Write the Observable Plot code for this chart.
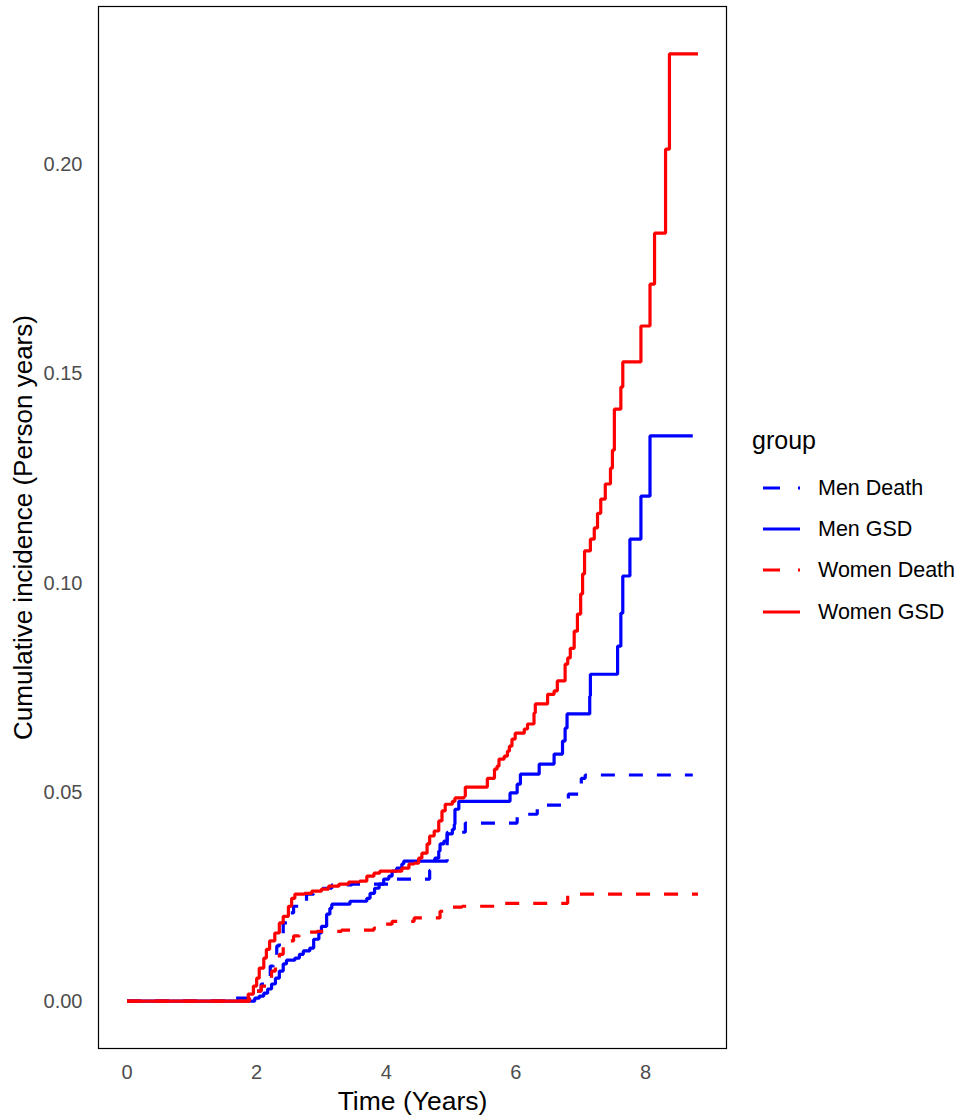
<!DOCTYPE html>
<html>
<head>
<meta charset="utf-8">
<script src="https://cdn.jsdelivr.net/npm/d3@7"></script>
<script src="https://cdn.jsdelivr.net/npm/@observablehq/plot@0.6"></script>
<style>
  html, body { margin: 0; padding: 0; background: #fff; }
  #wrap { position: relative; width: 966px; height: 1120px; font-family: "Liberation Sans", Arial, sans-serif; }
  #chart { position: absolute; left: 0; top: 0; }
  .lg { position: absolute; white-space: nowrap; color: #000; }
  .lgtitle { font-size: 25px; }
  .lgitem { font-size: 21.5px; }
</style>
</head>
<body>
<div id="wrap">
  <div id="chart"></div>
  <div id="legend"></div>
</div>
<script>
// ---- Data ----
const groups = ["Men Death", "Men GSD", "Women Death", "Women GSD"];
const groupColors = ["#0000FF", "#0000FF", "#FF0000", "#FF0000"];
const groupDashed = [true, false, true, false];

const xTicks = [0, 2, 4, 6, 8];
const yTicks = [0, 0.05, 0.10, 0.15, 0.20];

const menDeathTime = [0, 1.64, 1.92, 2.00, 2.07, 2.15, 2.21, 2.26, 2.31, 2.35, 2.41, 2.48, 2.57, 2.66, 2.77, 2.88, 3.16, 3.47, 4.16, 4.67, 4.71, 4.94, 5.22, 6.02, 6.33, 6.81, 7.01, 7.07, 8.73];
const menDeathCI = [0, 0.0007, 0.0012, 0.0024, 0.0041, 0.0060, 0.0084, 0.0108, 0.0132, 0.0156, 0.0187, 0.0211, 0.0227, 0.0239, 0.0256, 0.0270, 0.0278, 0.0280, 0.0292, 0.0313, 0.0335, 0.0404, 0.0426, 0.0447, 0.0469, 0.0495, 0.0533, 0.0541, 0.0541];

const menGSDTime = [0, 1.97, 2.04, 2.11, 2.17, 2.23, 2.29, 2.35, 2.41, 2.46, 2.59, 2.66, 2.72, 2.82, 2.88, 2.96, 3.00, 3.08, 3.13, 3.16, 3.44, 3.70, 3.75, 3.82, 3.89, 3.96, 4.04, 4.09, 4.16, 4.24, 4.27, 4.75, 4.81, 4.83, 4.89, 4.94, 5.02, 5.05, 5.06, 5.12, 5.91, 6.02, 6.07, 6.36, 6.59, 6.72, 6.76, 6.79, 7.14, 7.15, 7.57, 7.62, 7.65, 7.76, 7.93, 8.07, 8.73];
const menGSDCI = [0, 0.0007, 0.0012, 0.0019, 0.0029, 0.0041, 0.0055, 0.0072, 0.0089, 0.0098, 0.0103, 0.0112, 0.0120, 0.0127, 0.0148, 0.0163, 0.0179, 0.0208, 0.0222, 0.0232, 0.0239, 0.0246, 0.0258, 0.0270, 0.0280, 0.0292, 0.0299, 0.0311, 0.0318, 0.0328, 0.0335, 0.0342, 0.0359, 0.0376, 0.0383, 0.0400, 0.0411, 0.0423, 0.0459, 0.0478, 0.0498, 0.0519, 0.0543, 0.0567, 0.0591, 0.0622, 0.0653, 0.0687, 0.0730, 0.0782, 0.0849, 0.0928, 0.1017, 0.1105, 0.1208, 0.1352, 0.1352];

const womenDeathTime = [0, 1.89, 2.00, 2.07, 2.15, 2.23, 2.29, 2.35, 2.41, 2.49, 2.57, 2.66, 2.93, 3.31, 3.81, 3.98, 4.09, 4.43, 4.83, 5.02, 5.17, 5.68, 6.80, 8.81];
const womenDeathCI = [0, 0.0012, 0.0024, 0.0036, 0.0053, 0.0072, 0.0091, 0.0112, 0.0129, 0.0144, 0.0156, 0.0165, 0.0167, 0.0170, 0.0175, 0.0184, 0.0191, 0.0199, 0.0215, 0.0225, 0.0227, 0.0234, 0.0256, 0.0256];

const womenGSDTime = [0, 1.81, 1.87, 1.95, 2.00, 2.04, 2.11, 2.15, 2.20, 2.28, 2.35, 2.41, 2.49, 2.54, 2.59, 2.74, 2.85, 3.00, 3.11, 3.27, 3.42, 3.59, 3.70, 3.81, 3.90, 4.24, 4.35, 4.43, 4.50, 4.55, 4.63, 4.67, 4.74, 4.81, 4.86, 4.91, 5.02, 5.06, 5.20, 5.22, 5.56, 5.67, 5.71, 5.74, 5.82, 5.87, 5.90, 5.94, 5.99, 6.13, 6.18, 6.28, 6.30, 6.49, 6.59, 6.64, 6.76, 6.80, 6.84, 6.90, 6.95, 7.00, 7.03, 7.06, 7.15, 7.21, 7.26, 7.31, 7.38, 7.46, 7.49, 7.52, 7.62, 7.65, 7.93, 8.07, 8.14, 8.31, 8.37, 8.81];
const womenGSDCI = [0, 0, 0.0017, 0.0036, 0.0055, 0.0079, 0.0103, 0.0124, 0.0144, 0.0163, 0.0187, 0.0203, 0.0227, 0.0246, 0.0256, 0.0258, 0.0263, 0.0268, 0.0275, 0.0280, 0.0285, 0.0287, 0.0299, 0.0306, 0.0311, 0.0318, 0.0328, 0.0330, 0.0342, 0.0354, 0.0376, 0.0395, 0.0407, 0.0431, 0.0455, 0.0471, 0.0478, 0.0486, 0.0490, 0.0512, 0.0533, 0.0555, 0.0562, 0.0579, 0.0586, 0.0598, 0.0610, 0.0627, 0.0641, 0.0651, 0.0663, 0.0689, 0.0711, 0.0734, 0.0742, 0.0766, 0.0806, 0.0821, 0.0844, 0.0885, 0.0926, 0.0974, 0.1022, 0.1077, 0.1105, 0.1132, 0.1167, 0.1201, 0.1237, 0.1275, 0.1318, 0.1416, 0.1469, 0.1529, 0.1615, 0.1715, 0.1837, 0.2038, 0.2266, 0.2266];

// ---- Build tables ----
const seriesTimes = [menDeathTime, menGSDTime, womenDeathTime, womenGSDTime];
const seriesValues = [menDeathCI, menGSDCI, womenDeathCI, womenGSDCI];
const tables = groups.map((g, i) => seriesTimes[i].map((t, j) => ({group: g, time: t, ci: seriesValues[i][j]})));

const allT = seriesTimes.flat(), allV = seriesValues.flat();
const tMax = d3.max(allT), vMax = d3.max(allV);
const xPad = tMax * 0.05, yPad = vMax * 0.05;

const lineMarks = groups.map((g, i) => Plot.line(tables[i], {
  x: "time", y: "ci", curve: "step-after",
  stroke: groupColors[i], strokeWidth: 3.2,
  strokeDasharray: groupDashed[i] ? "14,14" : null,
  strokeLinejoin: "miter", strokeLinecap: "butt"
}));

const fontFamily = '"Liberation Sans", Arial, sans-serif';

const plot = Plot.plot({
  width: 740,
  height: 1120,
  marginLeft: 98,
  marginRight: 14,
  marginTop: 6,
  marginBottom: 72,
  style: {fontFamily, background: "white", overflow: "visible"},
  x: {domain: [0 - xPad, tMax + xPad]},
  y: {domain: [0 - yPad, vMax + yPad]},
  marks: [
    ...lineMarks,
    Plot.frame({stroke: "#000", strokeWidth: 1.2}),
    Plot.axisX({ticks: xTicks, tickSize: 0, tickPadding: 16, fontSize: 20, color: "#4D4D4D", label: null}),
    Plot.axisY({ticks: yTicks, tickSize: 0, tickPadding: 16, fontSize: 20, color: "#4D4D4D", tickFormat: d3.format(".2f"), label: null}),
    Plot.text(["Time (Years)"], {frameAnchor: "bottom", dy: 53, textAnchor: "middle", lineAnchor: "middle", fontSize: 26.5, fill: "#000"}),
    Plot.text(["Cumulative incidence (Person years)"], {frameAnchor: "left", dx: -75, rotate: -90, textAnchor: "middle", lineAnchor: "middle", fontSize: 26, fill: "#000"})
  ]
});
document.getElementById("chart").appendChild(plot);

// ---- Legend ----
const legend = document.getElementById("legend");
const title = document.createElement("div");
title.className = "lg lgtitle";
title.textContent = "group";
title.style.left = "752px";
title.style.top = "426px";
legend.appendChild(title);
const rowY = [488, 529, 570, 612];
groups.forEach((g, i) => {
  const ns = "http://www.w3.org/2000/svg";
  const svg = document.createElementNS(ns, "svg");
  svg.setAttribute("width", "37");
  svg.setAttribute("height", "8");
  svg.style.position = "absolute";
  svg.style.left = "763px";
  svg.style.top = (rowY[i] - 4) + "px";
  const ln = document.createElementNS(ns, "line");
  ln.setAttribute("x1", "0"); ln.setAttribute("x2", "37");
  ln.setAttribute("y1", "4"); ln.setAttribute("y2", "4");
  ln.setAttribute("stroke", groupColors[i]);
  ln.setAttribute("stroke-width", "3.2");
  if (groupDashed[i]) ln.setAttribute("stroke-dasharray", "17,18");
  svg.appendChild(ln);
  legend.appendChild(svg);
  const lab = document.createElement("div");
  lab.className = "lg lgitem";
  lab.textContent = g;
  lab.style.left = "818px";
  lab.style.top = (rowY[i] - 12) + "px";
  lab.style.lineHeight = "24px";
  legend.appendChild(lab);
});
</script>
</body>
</html>
